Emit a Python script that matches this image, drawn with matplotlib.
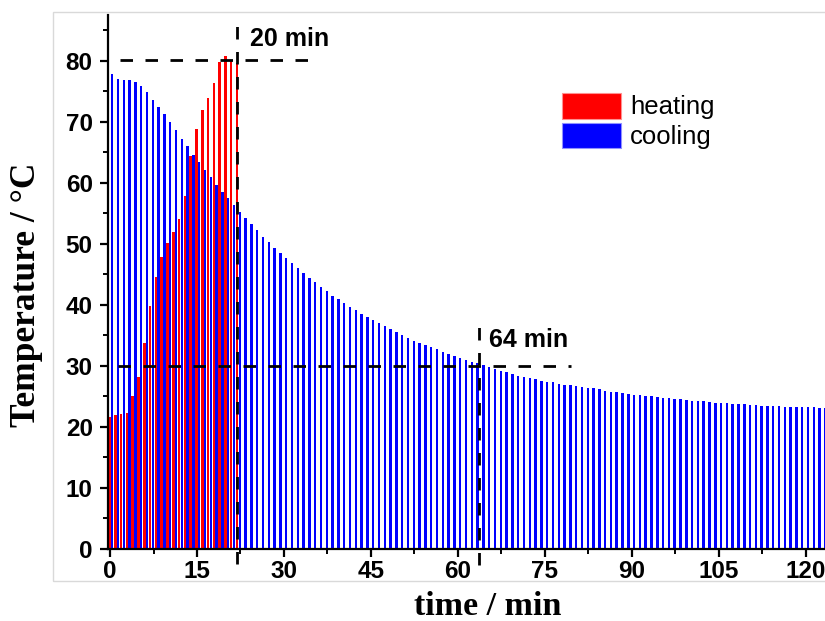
"""
plot.py
-------
Heating / cooling temperature profile drawn as interleaved bar series,
with dashed guide lines marking the 80 °C and 30 °C points.
"""

import numpy as np
import matplotlib
matplotlib.use("Agg")
import matplotlib.pyplot as plt
from matplotlib.patches import Patch, Rectangle
from matplotlib.ticker import MultipleLocator


# ─────────────────────────────────────────────
# Data (temperature in °C, one reading per minute)
# ─────────────────────────────────────────────

heating = [21.7, 21.9, 22.2, 22.3, 25.1, 28.2, 33.7, 39.8, 44.5, 47.8,
           50.1, 51.9, 54.0, 57.9, 64.4, 68.8, 71.9, 73.9, 76.3, 79.8,
           80.7, 80.1, 79.6]

cooling = [77.8, 77.0, 76.9, 76.8, 76.6, 75.9, 74.9, 73.6, 72.5, 71.2,
           70.0, 68.7, 67.2, 66.0, 64.6, 63.4, 62.1, 60.9, 59.6, 58.5,
           57.5, 56.3, 55.2, 54.2, 53.3, 52.2, 51.2, 50.3, 49.4, 48.5,
           47.7, 46.8, 46.0, 45.2, 44.4, 43.7, 42.9, 42.2, 41.5, 40.9,
           40.3, 39.7, 39.1, 38.5, 38.0, 37.5, 37.0, 36.5, 36.1, 35.6,
           35.0, 34.5, 34.1, 33.8, 33.4, 33.1, 32.7, 32.3, 32.0, 31.7,
           31.3, 31.0, 30.7, 30.4, 30.2, 29.9, 29.5, 29.2, 29.0, 28.7,
           28.4, 28.2, 28.0, 27.8, 27.6, 27.4, 27.3, 27.1, 26.9, 26.8,
           26.7, 26.5, 26.4, 26.3, 26.2, 25.9, 25.8, 25.7, 25.6, 25.4,
           25.3, 25.2, 25.1, 25.0, 24.9, 24.8, 24.7, 24.6, 24.5, 24.4,
           24.3, 24.3, 24.2, 24.1, 24.0, 24.0, 23.9, 23.8, 23.8, 23.7,
           23.6, 23.6, 23.5, 23.5, 23.5, 23.4, 23.3, 23.3, 23.3, 23.2,
           23.2, 23.2, 23.1, 23.1]

heat_time = np.arange(len(heating))
cool_time = np.arange(len(cooling))

x_ticks = [0, 15, 30, 45, 60, 75, 90, 105, 120]
y_ticks = [0, 10, 20, 30, 40, 50, 60, 70, 80]

# guide lines: (time, temperature) markers from the original figure
t_heat_end = 21.9
t_cool_30 = 63.6
temp_hot = 80.2
temp_cool = 30.0

SANS = "Liberation Sans"
SERIF = "Liberation Serif"


# ─────────────────────────────────────────────
# Plot
# ─────────────────────────────────────────────

def main() -> None:
    fig = plt.figure(figsize=(8.25, 6.21), dpi=100)
    ax = fig.add_axes([108 / 825, 72 / 621, 717 / 825, 534 / 621])

    # faint outer frame
    fig.patches.append(Rectangle((53 / 825, 40 / 621), 1.0, 569 / 621,
                                 transform=fig.transFigure, fill=False,
                                 edgecolor="#d9d9d9", lw=1.0))

    ax.bar(cool_time + 0.38, cooling, width=0.42, color="#0000ff",
           linewidth=0, zorder=2)
    ax.bar(heat_time - 0.10, heating, width=0.44, color="#ff0000",
           linewidth=0, zorder=2)

    dash = (0, (4.5, 4.5))
    ax.plot([1.8, 36.0], [temp_hot, temp_hot], color="black", lw=2,
            linestyle=dash, zorder=4)
    ax.plot([1.4, 79.5], [temp_cool, temp_cool], color="black", lw=2,
            linestyle=dash, zorder=4)
    ax.plot([t_heat_end, t_heat_end], [-2.5, 87.5], color="black", lw=2,
            linestyle=dash, zorder=4, clip_on=False)
    ax.plot([t_cool_30, t_cool_30], [-2.7, 38.4], color="black", lw=2,
            linestyle=dash, zorder=4, clip_on=False)

    ax.text(24.1, 83.5, "20 min", fontsize=18, fontweight="bold",
            family=SANS, va="center", ha="left")
    ax.text(65.3, 34.3, "64 min", fontsize=18, fontweight="bold",
            family=SANS, va="center", ha="left")

    ax.set_xlim(-0.35, 123.3)
    ax.set_ylim(0, 87.5)
    ax.set_xticks(x_ticks)
    ax.set_yticks(y_ticks)
    ax.xaxis.set_minor_locator(MultipleLocator(7.5))
    ax.yaxis.set_minor_locator(MultipleLocator(5))

    for side in ("top", "right"):
        ax.spines[side].set_visible(False)
    for side in ("left", "bottom"):
        ax.spines[side].set_linewidth(1.6)

    ax.tick_params(which="major", direction="out", length=6, width=1.6)
    ax.tick_params(which="minor", direction="out", length=3.5, width=1.4)
    ax.tick_params(axis="y", which="major", pad=5)
    ax.tick_params(axis="x", which="major", pad=2)
    for lbl in ax.get_xticklabels() + ax.get_yticklabels():
        lbl.set_fontfamily(SANS)
        lbl.set_fontweight("bold")
        lbl.set_fontsize(17.5)

    ax.set_xlabel("time / min", fontsize=24.5, fontweight="bold", family=SERIF)
    ax.xaxis.set_label_coords(0.529, -0.078)
    ax.set_ylabel("Temperature / °C", fontsize=25.5, fontweight="bold",
                  family=SERIF)
    ax.yaxis.set_label_coords(-0.113, 0.476)
    ax.yaxis.label.set_verticalalignment("center")

    handles = [Patch(facecolor="#ff0000", edgecolor="#ff9090", lw=0.8,
                     label="heating"),
               Patch(facecolor="#0000ff", edgecolor="#9090ff", lw=0.8,
                     label="cooling")]
    ax.legend(handles=handles, loc="upper left",
              bbox_to_anchor=(562 / 825, 1 - 93 / 621),
              bbox_transform=fig.transFigure, frameon=False,
              prop={"family": SANS, "size": 18.5},
              handlelength=2.3, handleheight=1.15, handletextpad=0.35,
              labelspacing=0.12, borderpad=0, borderaxespad=0)

    fig.savefig("out.png", dpi=100)
    plt.close(fig)


if __name__ == "__main__":
    main()
